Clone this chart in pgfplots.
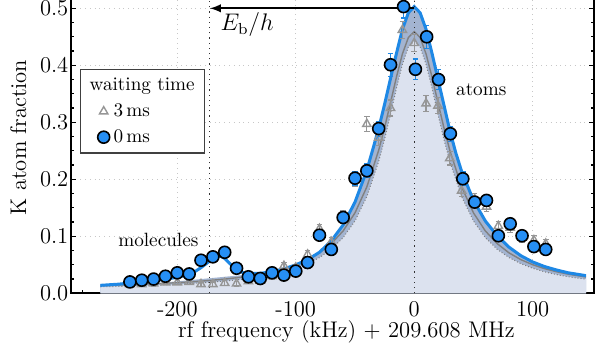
\documentclass[border=0pt]{standalone}
\usepackage{fontspec}
\usepackage{pgfplots}
\pgfplotsset{compat=1.18}
\usepackage{pgfplotstable}
\definecolor{fillA}{RGB}{220,226,239}
\definecolor{bandB}{RGB}{163,180,209}
\definecolor{blueL}{RGB}{30,136,229}
\definecolor{blueM}{RGB}{38,143,245}
\definecolor{grayT}{RGB}{150,150,150}

\pgfplotstableread{
x y e
-240 0.020 0.004
-230 0.023 0.004
-220 0.025 0.004
-210 0.030 0.004
-200 0.036 0.005
-190 0.034 0.005
-180 0.058 0.006
-170 0.064 0.006
-160 0.072 0.006
-150 0.044 0.005
-140 0.029 0.005
-130 0.026 0.005
-120 0.036 0.005
-110 0.032 0.005
-100 0.039 0.005
-90 0.054 0.006
-80 0.102 0.008
-70 0.077 0.007
-60 0.133 0.009
-50 0.202 0.012
-40 0.215 0.012
-30 0.289 0.013
-20 0.401 0.020
-9 0.503 0.020
1 0.393 0.018
10.5 0.450 0.020
20.5 0.375 0.018
30.5 0.280 0.013
41 0.201 0.012
51 0.160 0.009
61 0.163 0.009
71 0.101 0.008
81 0.122 0.008
91 0.101 0.008
101 0.082 0.007
111 0.077 0.007
}\circtab

\pgfplotstableread{
x y e
-240 0.016 0.004
-230 0.016 0.004
-220 0.017 0.004
-210 0.019 0.004
-200 0.019 0.004
-190 0.020 0.004
-180 0.016 0.004
-170 0.016 0.004
-160 0.018 0.004
-150 0.017 0.004
-140 0.021 0.004
-130 0.022 0.004
-120 0.030 0.005
-110 0.048 0.006
-100 0.045 0.006
-90 0.068 0.007
-80 0.113 0.008
-70 0.090 0.008
-60 0.135 0.010
-50 0.200 0.012
-40 0.297 0.013
-30 0.273 0.013
-20 0.325 0.014
-10 0.462 0.015
0 0.439 0.015
10 0.333 0.014
20 0.329 0.014
30 0.237 0.012
40 0.180 0.010
51 0.165 0.010
61 0.152 0.009
71 0.118 0.008
81 0.115 0.008
91 0.098 0.008
101 0.093 0.008
111 0.087 0.008
}\tritab

\pgfplotstableread{
x y
-265 0.014
-250 0.016
-240 0.018
-230 0.020
-220 0.022
-210 0.025
-200 0.028
-192 0.032
-186 0.037
-180 0.045
-175 0.053
-170 0.061
-166 0.065
-163 0.065
-160 0.061
-156 0.053
-152 0.045
-148 0.039
-144 0.036
-140 0.035
-130 0.035
-120 0.038
-110 0.043
-100 0.050
-90 0.059
-80 0.072
-70 0.092
-60 0.120
-50 0.160
-40 0.216
-30 0.289
-25 0.332
-20 0.377
-15 0.421
-10 0.463
-5 0.492
0 0.503
5 0.492
10 0.463
15 0.421
20 0.376
25 0.331
30 0.286
35 0.247
40 0.214
50 0.163
60 0.127
70 0.101
80 0.081
90 0.066
100 0.055
110 0.047
120 0.041
130 0.036
145 0.031
}\bluefit

\pgfplotstableread{
x y
-265 0.0135
-250 0.015
-240 0.016
-230 0.017
-220 0.018
-210 0.0195
-200 0.021
-190 0.023
-180 0.025
-170 0.027
-160 0.029
-150 0.031
-140 0.033
-130 0.035
-120 0.038
-110 0.043
-100 0.050
-90 0.059
-80 0.072
-70 0.092
-60 0.120
-50 0.160
-40 0.216
-30 0.289
-25 0.332
-20 0.377
-15 0.421
-10 0.463
-5 0.492
0 0.503
5 0.492
10 0.463
15 0.421
20 0.376
25 0.331
30 0.286
35 0.247
40 0.214
50 0.163
60 0.127
70 0.101
80 0.081
90 0.066
100 0.055
110 0.047
120 0.041
130 0.036
145 0.031
}\upband

\pgfplotstableread{
x y
-265 0.0114
-240 0.0127
-220 0.0140
-200 0.0158
-180 0.0182
-160 0.0214
-145 0.0247
-130 0.0290
-120 0.0329
-110 0.0377
-100 0.0439
-90 0.0520
-80 0.0627
-70 0.0773
-60 0.0977
-50 0.1270
-40 0.1697
-30 0.2314
-25 0.2705
-20 0.3143
-15 0.3599
-10 0.4017
-5 0.4319
0 0.4430
5 0.4319
10 0.4017
15 0.3599
20 0.3143
25 0.2705
30 0.2314
40 0.1697
50 0.1270
60 0.0977
70 0.0773
80 0.0627
90 0.0520
100 0.0439
110 0.0377
120 0.0329
130 0.0290
145 0.0247
}\lowband

\pgfplotstableread{
x y
-265 0.0137
-240 0.0151
-220 0.0167
-200 0.0186
-180 0.0213
-160 0.0249
-145 0.0286
-130 0.0336
-120 0.0379
-110 0.0433
-100 0.0502
-90 0.0591
-80 0.0710
-70 0.0872
-60 0.1095
-50 0.1412
-40 0.1867
-30 0.2511
-25 0.2910
-20 0.3348
-15 0.3796
-10 0.4199
-5 0.4485
0 0.4590
5 0.4485
10 0.4199
15 0.3796
20 0.3348
25 0.2910
30 0.2511
40 0.1867
50 0.1412
60 0.1095
70 0.0872
80 0.0710
90 0.0591
100 0.0502
110 0.0433
120 0.0379
130 0.0336
145 0.0286
}\grayfit

\begin{document}
\begin{tikzpicture}
\begin{axis}[
  scale only axis, width=261.8pt, height=155.9pt,
  xmin=-290, xmax=152, ymin=0, ymax=0.547,
  axis line style={line width=0.9pt, black},
  xtick={-200,-100,0,100}, xticklabels={-200,-100,0,100},
  ytick={0,0.1,0.2,0.3,0.4,0.5}, yticklabels={0.0,0.1,0.2,0.3,0.4,0.5},
  minor xtick={-280,-260,-240,-220,-180,-160,-140,-120,-80,-60,-40,-20,20,40,60,80,120,140},
  minor ytick={0.025,0.05,0.075,0.125,0.15,0.175,0.225,0.25,0.275,0.325,0.35,0.375,0.425,0.45,0.475,0.525},
  major tick length=2.5pt, minor tick length=1.5pt,
  tick style={black, line width=0.6pt},
  grid=major, major grid style={black!22, dotted, line width=0.5pt},
  tick label style={font=\fontsize{11.3}{13}\selectfont, inner sep=2pt},
  xticklabel style={yshift=-2pt},
  yticklabel style={xshift=1pt},
  label style={font=\fontsize{11.3}{13}\selectfont},
  xlabel={rf frequency (kHz) $+$ 209.608 MHz},
  ylabel={K atom fraction},
  xlabel style={at={(axis description cs:0.5266,-0.1402)}, anchor=base},
  ylabel style={at={(axis description cs:-0.0999,0.4997)}, anchor=center},
  legend cell align=left,
  legend style={at={(0.0178,0.7185)}, anchor=north west, draw=black!75, line width=0.6pt,
    font=\fontsize{9.6}{11}\selectfont, inner xsep=3pt, inner ysep=2pt, row sep=1pt},
]
\addplot[draw=none, fill=bandB, forget plot] table[x=x,y=y]{\upband} \closedcycle;
\addplot[draw=none, fill=fillA, forget plot] table[x=x,y=y]{\lowband} \closedcycle;
\addplot[gray, densely dotted, line width=0.5pt, forget plot] table[x=x,y=y]{\lowband};
\addplot[grayT!85!black, line width=0.7pt, forget plot] table[x=x,y=y]{\grayfit};
\addplot[blueL, line width=1.5pt, forget plot] table[x=x,y=y]{\bluefit};
\draw[black!80, dotted, line width=0.6pt] (axis cs:0,0) -- (axis cs:0,0.547);
\draw[black!80, dotted, line width=0.6pt] (axis cs:-172.5,0) -- (axis cs:-172.5,0.547);
\draw[black, line width=0.9pt, -latex] (axis cs:0,0.5) -- (axis cs:-172.5,0.5);
\node[font=\fontsize{12}{14}\selectfont] at (axis cs:-141,0.471) {$E_\mathrm{b}/h$};
\node[font=\fontsize{9.6}{11}\selectfont] at (axis cs:56.6,0.357) {atoms};
\node[font=\fontsize{9.6}{11}\selectfont] at (axis cs:-216,0.094) {molecules};
\addlegendimage{empty legend}
\addlegendentry{\hspace*{-12pt}waiting time}
\addplot[only marks, mark=triangle, mark size=2.4pt, grayT, line width=0.7pt,
  error bars/.cd, y dir=both, y explicit,
  error bar style={grayT, line width=0.6pt},
  error mark options={rotate=90, mark size=1.4pt, grayT, line width=0.6pt}]
  table[x=x,y=y,y error=e]{\tritab};
\addlegendentry{3\,ms}
\addplot[only marks, mark=*, mark size=3pt, mark options={fill=blueM, draw=black, line width=0.8pt},
  error bars/.cd, y dir=both, y explicit,
  error bar style={blueL, line width=0.6pt},
  error mark options={rotate=90, mark size=1.4pt, blueL, line width=0.6pt}]
  table[x=x,y=y,y error=e]{\circtab};
\addlegendentry{0\,ms}
\coordinate (O) at (rel axis cs:0,0);
\coordinate (T) at (axis cs:152,0.5146);
\end{axis}
\pgfresetboundingbox
\path[use as bounding box] ([xshift=-35.35pt,yshift=-24.85pt]O) rectangle ([xshift=7.85pt]T);
\end{tikzpicture}
\end{document}
